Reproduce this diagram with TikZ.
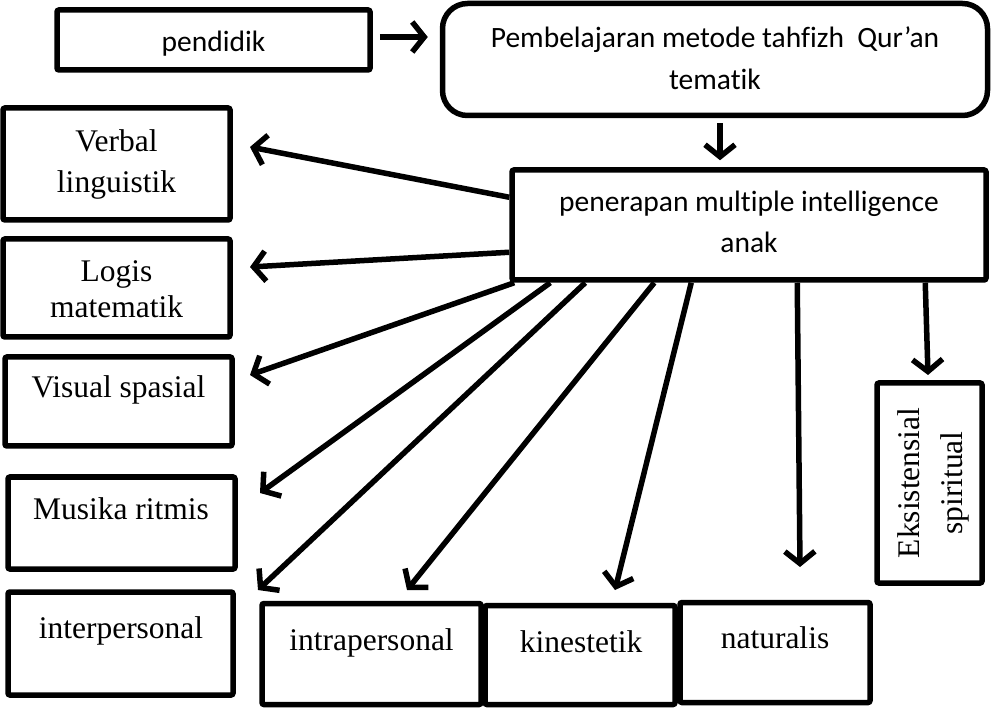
\documentclass[tikz,border=0pt]{standalone}
\usepackage{fontspec}
\setmainfont{Liberation Serif}
\newfontfamily\carl[Ligatures={NoCommon,NoRare}]{Carlito}
\usetikzlibrary{arrows.meta,calc}
\tikzset{
  box/.style={draw, line width=5.5pt, rounded corners=2pt, inner sep=0pt},
  arr/.style={line width=5.5pt, -{Straight Barb[length=12pt,width=30pt]}},
  sertxt/.style={anchor=base, inner sep=0pt, font=\fontsize{31.5}{38}\selectfont},
  santxt/.style={anchor=base, inner sep=0pt, font=\carl\fontsize{29.5}{35}\selectfont},
}
\begin{document}
\begin{tikzpicture}[x=1pt,y=-1pt]
\useasboundingbox (0,0) rectangle (991,708);
% boxes
\node[box, minimum width=313pt, minimum height=60pt] (pend) at (213.5,40) {};
\node[box, rounded corners=25pt, minimum width=545pt, minimum height=112pt] (pemb) at (715,59.5) {};
\node[box, minimum width=474pt, minimum height=110pt] (pen) at (749,225) {};
\node[box, minimum width=227pt, minimum height=112pt] (verb) at (116.5,164) {};
\node[box, minimum width=227pt, minimum height=98pt] (logis) at (116.5,288) {};
\node[box, minimum width=227pt, minimum height=89pt] (vis) at (118.5,401.5) {};
\node[box, minimum width=227pt, minimum height=92pt] (mus) at (121.5,523) {};
\node[box, minimum width=225pt, minimum height=103pt] (inter) at (120.5,643.5) {};
\node[box, minimum width=219pt, minimum height=101pt] (intra) at (371.5,654) {};
\node[box, minimum width=190pt, minimum height=99pt] (kin) at (580,655) {};
\node[box, minimum width=190pt, minimum height=100pt] (nat) at (775,652.5) {};
\node[box, minimum width=105pt, minimum height=200pt] (eks) at (929.5,483) {};
% texts
\node[santxt] (pendT) at (213.5,52) {pendidik};
\node[santxt] (pembT1) at (715,48) {Pembelajaran metode tahfizh\ \ Qur’an};
\node[santxt] (pembT2) at (715,90) {tematik};
\node[santxt] (penT1) at (749,212) {penerapan multiple intelligence};
\node[santxt] (penT2) at (749,253) {anak};
\node[sertxt] (verbT1) at (116.5,152) {Verbal};
\node[sertxt] (verbT2) at (116.5,193) {linguistik};
\node[sertxt] (logT1) at (116.5,282) {Logis};
\node[sertxt] (logT2) at (116.5,318) {matematik};
\node[sertxt] (visT) at (118.5,398) {Visual spasial};
\node[sertxt] (musT) at (121,519) {Musika ritmis};
\node[sertxt] (interT) at (121,638) {interpersonal};
\node[sertxt] (intraT) at (371.5,650) {intrapersonal};
\node[sertxt] (kinT) at (581,652) {kinestetik};
\node[sertxt] (natT) at (775,648) {naturalis};
\node[sertxt, rotate=90] (eksT1) at (919,483) {Eksistensial};
\node[sertxt, rotate=90] (eksT2) at (962,483) {spiritual};
% arrow tips
\coordinate (tVerb) at (250,147);
\coordinate (tLog) at (250,267);
\coordinate (tVis) at (250,375);
\coordinate (tMus) at (260,493);
\coordinate (tInter) at (258,590);
\coordinate (tIntra) at (407,590);
\coordinate (tKin) at (615,590);
\coordinate (tNat) at (800,567);
\coordinate (tEks) at (928,375);
% connectors
\draw[arr] ($(pend.east)+(7,-3)$) -- ($(pemb.west)+(-12,-22.5)$);
\draw[arr] ($(pemb.south)+(5,5)$) -- ($(pen.north)+(-29,-7)$);
\draw[arr] ($(pen.north west)+(0,30)$) -- (tVerb);
\draw[arr] ($(pen.north west)+(0,85)$) -- (tLog);
\draw[arr] ($(pen.south west)+(5,0)$) -- (tVis);
\draw[arr] ($(pen.south west)+(41,0)$) -- (tMus);
\draw[arr] ($(pen.south west)+(76,0)$) -- (tInter);
\draw[arr] ($(pen.south west)+(145,0)$) -- (tIntra);
\draw[arr] ($(pen.south west)+(182,0)$) -- (tKin);
\draw[arr] ($(pen.south west)+(288,0)$) -- (tNat);
\draw[arr] ($(pen.south west)+(416,0)$) -- (tEks);
\end{tikzpicture}
\end{document}
